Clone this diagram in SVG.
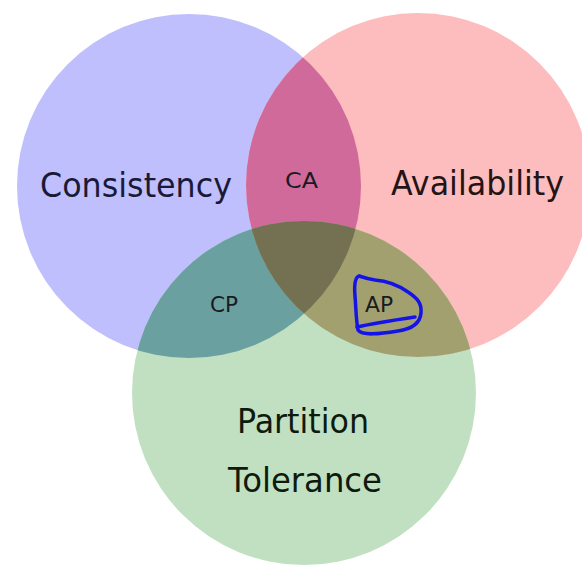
<svg xmlns="http://www.w3.org/2000/svg" xmlns:xlink="http://www.w3.org/1999/xlink" width="582" height="568" viewBox="0 0 582 568">
<style>
.big{font-family:"DejaVu Sans","Liberation Sans",sans-serif;font-size:33px;}
.small{font-family:"DejaVu Sans","Liberation Sans",sans-serif;font-size:21px;fill:#1a1a22;}
.ink{fill:none;stroke:#1414e6;stroke-width:3.5;stroke-linecap:round;stroke-linejoin:round;}
</style>
<defs>
<circle id="cC" cx="189" cy="186" r="172"/>
<circle id="cA" cx="418" cy="185" r="172"/>
<circle id="cP" cx="304" cy="393" r="172"/>
<clipPath id="clipC"><use xlink:href="#cC"/></clipPath>
<clipPath id="clipA"><use xlink:href="#cA"/></clipPath>
</defs>
<rect width="582" height="568" fill="#ffffff"/>
<g id="consistency">
<use xlink:href="#cC" fill="#bfbffd"/>
</g>
<g id="availability">
<use xlink:href="#cA" fill="#fdbdbe"/>
</g>
<g id="partition-tolerance">
<use xlink:href="#cP" fill="#c1e0c1"/>
</g>
<g id="ca">
<use xlink:href="#cA" fill="#d06a9b" clip-path="url(#clipC)"/>
</g>
<g id="cp">
<use xlink:href="#cP" fill="#6aa0a0" clip-path="url(#clipC)"/>
</g>
<g id="ap">
<use xlink:href="#cP" fill="#a3a070" clip-path="url(#clipA)"/>
</g>
<g id="cap">
<g clip-path="url(#clipC)"><use xlink:href="#cP" fill="#747152" clip-path="url(#clipA)"/></g>
</g>
<g id="labels">
<text class="big" x="40" y="197" textLength="192" lengthAdjust="spacingAndGlyphs" fill="#1a1a38">Consistency</text>
<text class="big" x="391" y="195" textLength="173" lengthAdjust="spacingAndGlyphs" fill="#241414">Availability</text>
<text class="big" x="237" y="433" textLength="132" lengthAdjust="spacingAndGlyphs" fill="#0e1a0e">Partition</text>
<text class="big" x="228" y="492" textLength="154" lengthAdjust="spacingAndGlyphs" fill="#0e1a0e">Tolerance</text>
<text class="small" x="285" y="188" textLength="33" lengthAdjust="spacingAndGlyphs">CA</text>
<text class="small" x="210" y="312" textLength="28" lengthAdjust="spacingAndGlyphs">CP</text>
<text class="small" x="365" y="312" textLength="28" lengthAdjust="spacingAndGlyphs">AP</text>
</g>
<g id="connectors">
<path class="ink" d="M360,276 C355,276 354,285 355,296 C356,308 356,320 358,330 C362,336 380,334 398,331 C412,329 420,324 421,313 C422,303 417,298 408,292 C398,285 388,281 375,280 C368,279 362,277 359,276"/>
<path class="ink" d="M357,327 C375,323 395,320 415,317"/>
</g>
</svg>
